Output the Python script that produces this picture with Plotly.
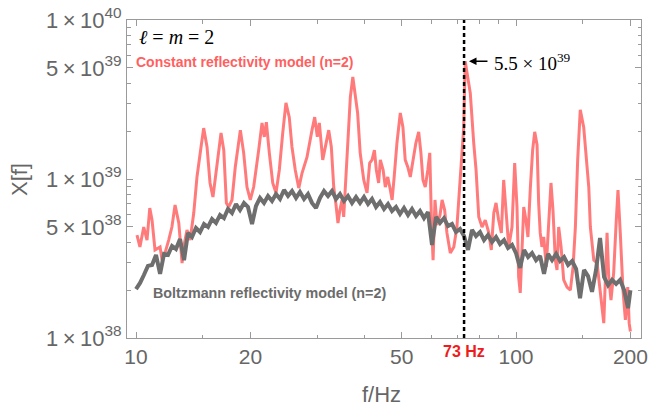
import math
import plotly.graph_objects as go

# ---------------- data ----------------
red_freq = [
    10.06, 10.24, 10.48, 10.69, 10.87, 11.02, 11.22, 11.57, 11.71, 11.92,
    12.19, 12.43, 12.67, 12.96, 13.22, 13.35, 13.62, 13.88, 14.19, 14.47,
    14.83, 15.07, 15.38, 15.66, 15.94, 16.14, 16.51, 16.74, 17.02, 17.29,
    17.54, 17.89, 18.25, 18.82, 19.20, 19.59, 19.99, 20.40, 21.03, 21.46,
    21.76, 22.03, 22.43, 22.90, 23.36, 23.83, 24.33, 24.81, 25.31, 25.73,
    26.25, 26.81, 27.35, 28.18, 29.05, 29.53, 30.00, 30.37, 31.00, 31.60,
    32.15, 32.66, 33.14, 33.60, 34.00, 34.40, 34.85, 35.20, 35.90, 36.65,
    37.20, 37.80, 38.30, 38.90, 39.75, 40.55, 41.20, 41.80, 42.40, 42.90,
    43.50, 43.95, 44.70, 45.30, 45.97, 46.70, 47.20, 47.80, 48.60, 49.60,
    50.40, 51.10, 51.90, 52.70, 53.60, 54.50, 55.45, 56.20, 56.90, 57.70,
    58.60, 59.30, 59.90, 60.50, 61.20, 61.95, 63.10, 63.90, 64.90, 65.80,
    67.15, 68.60, 69.90, 71.35, 72.85, 73.50, 75.80, 77.40, 78.50, 79.80,
    81.40, 83.00, 84.80, 86.10, 87.40, 88.60, 90.00, 91.50, 92.80, 94.10,
    95.70, 97.60, 99.20, 100.6, 101.6, 102.6, 103.7, 104.8, 106.2, 107.5,
    109.1, 110.6, 112.0, 113.6, 114.7, 115.8, 117.0, 118.3, 120.1, 121.9,
    123.6, 125.1, 126.9, 128.2, 129.5, 131.4, 133.5, 136.2, 139.0, 141.3,
    143.3, 145.3, 147.6, 150.7, 153.1, 155.4, 156.9, 160.2, 163.4, 166.7,
    170.2, 173.6, 175.4, 177.8, 180.7, 183.6, 185.5, 188.1, 191.2, 194.0,
    196.8, 198.5, 200.0,
]
# X[f] in units of 1e38
red_X = [
    4.44, 3.74, 4.99, 4.13, 6.57, 5.52, 3.58, 3.74, 3.09, 3.42,
    4.13, 4.99, 6.86, 5.29, 2.96, 3.74, 4.78, 4.13, 6.11, 10.3,
    15.9, 20.9, 15.9, 9.44, 7.70, 9.86, 14.6, 19.5, 15.2, 7.07,
    6.67, 7.38, 11.9, 20.3, 14.6, 8.90, 7.38, 8.90, 15.2, 22.5,
    18.4, 22.8, 14.6, 9.44, 8.17, 11.4, 19.5, 30.1, 24.5, 15.9,
    11.4, 8.77, 10.9, 13.7, 20.3, 24.5, 18.4, 22.5, 13.2, 16.8,
    20.3, 15.9, 8.90, 6.86, 5.29, 6.38, 7.38, 5.77, 13.2, 32.8,
    43.8, 32.8, 26.0, 14.6, 9.86, 8.17, 12.6, 13.2, 15.2, 11.4,
    9.44, 13.2, 11.4, 8.90, 10.3, 8.53, 7.38, 10.3, 16.8, 26.0,
    21.2, 13.2, 11.9, 10.3, 13.7, 16.8, 19.8, 14.6, 9.86, 8.90,
    11.4, 14.6, 5.52, 3.09, 7.38, 5.14, 5.94, 7.38, 6.38, 4.58,
    3.42, 3.74, 4.99, 10.3, 21.2, 55.0, 34.7, 16.8, 11.4, 5.77,
    4.99, 5.52, 4.58, 3.58, 6.11, 7.07, 5.52, 4.58, 9.86, 6.38,
    3.74, 4.99, 12.6, 6.67, 2.42, 1.92, 4.13, 6.67, 5.52, 4.32,
    8.90, 15.2, 19.8, 16.4, 7.07, 4.58, 3.74, 4.32, 2.80, 5.52,
    9.44, 6.38, 3.09, 2.68, 4.99, 3.74, 2.32, 2.09, 2.00, 2.80,
    4.99, 13.2, 27.2, 21.2, 13.2, 8.90, 4.99, 3.09, 2.96, 1.92,
    1.24, 4.58, 2.42, 1.73, 2.56, 5.52, 8.53, 4.58, 2.00, 1.30,
    2.09, 1.24, 1.10,
]

gray_freq = [
    10.00, 10.25, 10.49, 10.75, 11.02, 11.29, 11.57, 11.85, 12.14, 12.44,
    12.74, 13.06, 13.38, 13.70, 14.04, 14.38, 14.74, 15.10, 15.47, 15.85,
    16.24, 16.64, 17.04, 17.46, 17.89, 18.33, 18.78, 19.24, 19.71, 20.20,
    20.69, 21.20, 21.72, 22.25, 22.80, 23.36, 23.93, 24.52, 25.12, 25.74,
    26.37, 27.01, 27.68, 28.35, 29.05, 29.76, 30.49, 31.24, 32.01, 32.79,
    33.60, 34.42, 35.27, 36.13, 37.02, 37.93, 38.86, 39.81, 40.79, 41.79,
    42.81, 43.86, 44.94, 46.04, 47.17, 48.33, 49.52, 50.73, 51.98, 53.25,
    54.56, 55.90, 57.27, 58.67, 60.11, 61.59, 63.10, 64.65, 66.23, 67.86,
    69.52, 71.23, 72.98, 74.77, 76.60, 78.48, 80.41, 82.38, 84.40, 86.47,
    88.60, 90.77, 93.00, 95.28, 97.62, 100.0, 102.5, 105.0, 107.6, 110.2,
    112.9, 115.7, 118.5, 121.4, 124.4, 127.5, 130.6, 133.8, 137.1, 140.5,
    143.9, 147.4, 151.0, 154.7, 158.5, 162.4, 166.4, 170.5, 174.7, 179.0,
    183.4, 187.9, 192.5, 197.2, 200.0,
]
gray_X = [
    2.03, 2.22, 2.49, 2.84, 2.88, 3.33, 2.53, 3.38, 3.33, 3.79,
    3.63, 4.19, 3.09, 4.58, 4.32, 4.92, 4.64, 5.21, 4.99, 5.60,
    5.29, 5.94, 5.68, 6.48, 6.11, 6.96, 6.38, 7.07, 6.67, 5.21,
    6.76, 7.60, 7.07, 7.82, 7.27, 8.05, 7.49, 8.53, 7.82, 8.41,
    7.60, 8.29, 7.49, 8.05, 7.07, 6.57, 7.60, 8.41, 7.82, 8.41,
    7.49, 8.05, 7.27, 7.82, 7.07, 7.70, 7.07, 7.70, 6.96, 7.49,
    6.67, 7.17, 6.48, 6.96, 6.29, 6.67, 6.02, 6.57, 5.94, 6.48,
    5.85, 6.29, 5.68, 6.20, 3.85, 5.77, 5.29, 5.68, 5.06, 5.21,
    4.64, 4.85, 4.38, 3.58, 4.78, 4.38, 4.64, 4.13, 4.44, 4.02,
    4.32, 3.90, 4.13, 3.68, 3.85, 3.42, 2.76, 3.58, 3.23, 3.42,
    3.09, 3.28, 2.53, 3.38, 3.09, 3.38, 3.05, 3.23, 2.88, 3.05,
    2.72, 1.78, 2.68, 2.45, 1.95, 2.68, 4.26, 2.42, 2.15, 2.32,
    2.19, 2.32, 2.00, 1.54, 2.00,
]
UNIT = 1e38

x_tickvals = [10, 20, 50, 100, 200]
x_ticktext = ["10", "20", "50", "100", "200"]
x_minor = [15, 30, 40, 60, 70, 80, 90, 150]

y_tickvals = [1e38, 5e38, 1e39, 5e39, 1e40]
y_ticktext = ["1\u2009×\u200910<sup>38</sup>", "5\u2009×\u200910<sup>38</sup>",
              "1\u2009×\u200910<sup>39</sup>", "5\u2009×\u200910<sup>39</sup>",
              "1\u2009×\u200910<sup>40</sup>"]
y_minor = [2e38, 3e38, 4e38, 6e38, 7e38, 8e38, 9e38,
           2e39, 3e39, 4e39, 6e39, 7e39, 8e39, 9e39]

marker_freq = 73
peak_value = 55.0  # 5.5e39 in units of 1e38

# ---------------- figure ----------------
fig = go.Figure()
fig.add_trace(go.Scatter(x=red_freq, y=[v * UNIT for v in red_X], mode="lines",
                         line=dict(color="#ff7b7b", width=3), hoverinfo="skip"))
fig.add_trace(go.Scatter(x=gray_freq, y=[v * UNIT for v in gray_X], mode="lines",
                         line=dict(color="#6e6e6e", width=4), hoverinfo="skip"))
fig.add_trace(go.Scatter(x=[marker_freq, marker_freq], y=[1e38, 1e40], mode="lines",
                         line=dict(color="black", width=2.5, dash="4px,3px"),
                         hoverinfo="skip"))

axis_common = dict(
    type="log", showgrid=False, zeroline=False, showline=True, automargin=False,
    linecolor="#9a9a9a", linewidth=1, mirror="ticks", ticks="inside",
    ticklen=6, tickwidth=1, tickcolor="#9a9a9a",
)

fig.update_layout(
    width=649, height=407,
    margin=dict(l=127, r=8, t=20, b=69, autoexpand=False),
    paper_bgcolor="white", plot_bgcolor="white",
    showlegend=False,
    xaxis=dict(**axis_common, range=[0.97632, 2.3289],
               tickmode="array", tickvals=x_tickvals, ticktext=x_ticktext,
               tickfont=dict(family="Liberation Sans, Arial", size=21, color="#666666"),
               minor=dict(tickmode="array", tickvals=x_minor, ticks="inside",
                          ticklen=3.5, tickcolor="#9a9a9a", showgrid=False)),
    yaxis=dict(**axis_common, range=[38, 40],
               tickmode="array", tickvals=y_tickvals, ticktext=y_ticktext,
               tickfont=dict(family="Liberation Sans, Arial", size=22, color="#666666"),
               minor=dict(tickmode="array", tickvals=y_minor, ticks="inside",
                          ticklen=3.5, tickcolor="#9a9a9a", showgrid=False)),
)

ann = []
ann.append(dict(text="<i>ℓ</i> = <i>m</i> = 2", xref="paper", yref="paper",
                x=0.0195, y=0.9465, xanchor="left", yanchor="middle", showarrow=False,
                font=dict(family="Liberation Serif, DejaVu Serif", size=20, color="black")))
ann.append(dict(text="<b>Constant reflectivity model (n=2)</b>", xref="paper", yref="paper",
                x=0.0136, y=0.868, xanchor="left", yanchor="middle", showarrow=False,
                font=dict(family="Liberation Sans, Arial", size=14, color="#ff5f5f")))
ann.append(dict(text="<b>Boltzmann reflectivity model (n=2)</b>", xref="paper", yref="paper",
                x=0.0466, y=0.1415, xanchor="left", yanchor="middle", showarrow=False,
                font=dict(family="Liberation Sans, Arial", size=14.3, color="#6b6b6b")))
ann.append(dict(text="<b>73 Hz</b>", xref="x", yref="paper",
                x=math.log10(marker_freq), y=-0.044, xanchor="center", yanchor="middle",
                showarrow=False,
                font=dict(family="Liberation Sans, Arial", size=16, color="#ee1c1c")))
ann.append(dict(text="", xref="x", yref="y",
                x=math.log10(75.2), y=math.log10(peak_value * UNIT),
                ax=20, ay=0, showarrow=True, arrowhead=2, arrowsize=1,
                arrowwidth=1.5, arrowcolor="black"))
ann.append(dict(text="5.5 × 10<sup>39</sup>", xref="paper", yref="paper",
                x=0.711, y=0.868, xanchor="left", yanchor="middle", showarrow=False,
                font=dict(family="Liberation Serif, DejaVu Serif", size=19, color="black")))
ann.append(dict(text="f/Hz", xref="paper", yref="paper",
                x=0.496, y=-0.179, xanchor="center", yanchor="middle", showarrow=False,
                font=dict(family="Liberation Sans, Arial", size=22, color="#666666")))
ann.append(dict(text="X[f]", xref="paper", yref="paper", textangle=-90,
                x=-0.208, y=0.497, xanchor="center", yanchor="middle", showarrow=False,
                font=dict(family="Liberation Sans, Arial", size=22, color="#666666")))
fig.update_layout(annotations=ann)

fig.write_html("out.html")
